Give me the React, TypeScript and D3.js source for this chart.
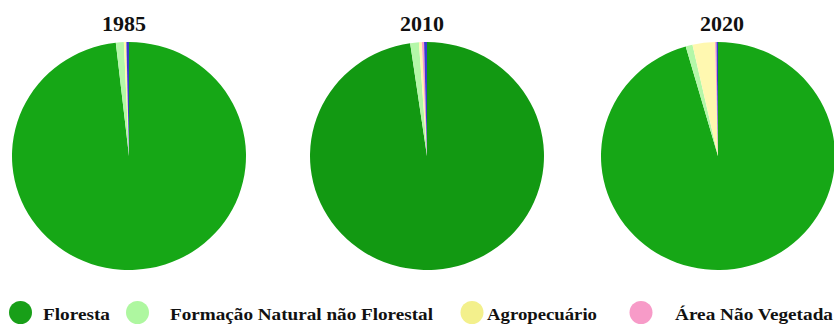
import React from "react";
import * as d3 from "d3";

// Land cover share (%) per year, in drawing order clockwise from 12 o'clock
const years = ["1985", "2010", "2020"];
const classes = ["Floresta", "Formação Natural não Florestal", "Agropecuário", "Área Não Vegetada", "Água"];
const floresta = [98.2, 97.7, 95.55];
const formacaoNatural = [1.1, 1.2, 0.95];
const agropecuario = [0.3, 0.4, 3.1];
const areaNaoVegetada = [0.05, 0.3, 0.2];
const agua = [0.35, 0.4, 0.2];
const legendItems = ["Floresta", "Formação Natural não Florestal", "Agropecuário", "Área Não Vegetada"];

// Styling
const forestGreen = ["#16a716", "#129912", "#16a716"];
const sliceColors = ["", "#b4f7a8", "#fff8b0", "#f79ccc", "#3a3ad0"];
const legendColors = ["#189f18", "#aef7a0", "#f3f08c", "#f79bc8"];

const W = 834;
const H = 324;
const pieCenters = [129, 427, 718];
const titleCenters = [124, 422, 722];
const cy = 156;
const ry = 114;
const rx = 117;

const legendCircleX = [20.5, 137.5, 472, 641];
const legendTextX = [43, 170, 487, 675];
const legendTextW = [67, 263, 110, 158];

export default function App() {
  const pie = d3
    .pie<number>()
    .sort(null)
    .value((d) => d)
    .startAngle(0)
    .endAngle(2 * Math.PI);
  const arc = d3.arc<d3.PieArcDatum<number>>().innerRadius(0).outerRadius(ry);

  return (
    <svg
      width={W}
      height={H}
      style={{ position: "fixed", left: 0, top: 0, background: "#fff" }}
      fontFamily="'Liberation Serif', 'Times New Roman', serif"
    >
      {years.map((year, i) => {
        const values = [floresta[i], formacaoNatural[i], agropecuario[i], areaNaoVegetada[i], agua[i]];
        const slices = pie(values);
        return (
          <g key={year}>
            <text
              x={titleCenters[i]}
              y={31}
              textAnchor="middle"
              fontWeight="bold"
              fontSize={22}
              fill="#111"
            >
              {year}
            </text>
            <g transform={`translate(${pieCenters[i]},${cy}) scale(${rx / ry},1)`}>
              {slices.map((s, j) => (
                <path
                  key={classes[j]}
                  d={arc(s) || ""}
                  fill={j === 0 ? forestGreen[i] : sliceColors[j]}
                />
              ))}
            </g>
          </g>
        );
      })}
      {legendItems.map((name, k) => (
        <g key={name}>
          <circle cx={legendCircleX[k]} cy={312.5} r={11.5} fill={legendColors[k]} />
          <text
            x={legendTextX[k]}
            y={319.5}
            fontWeight="bold"
            fontSize={16.5}
            fill="#111"
            textLength={legendTextW[k]}
            lengthAdjust="spacingAndGlyphs"
          >
            {name}
          </text>
        </g>
      ))}
    </svg>
  );
}
